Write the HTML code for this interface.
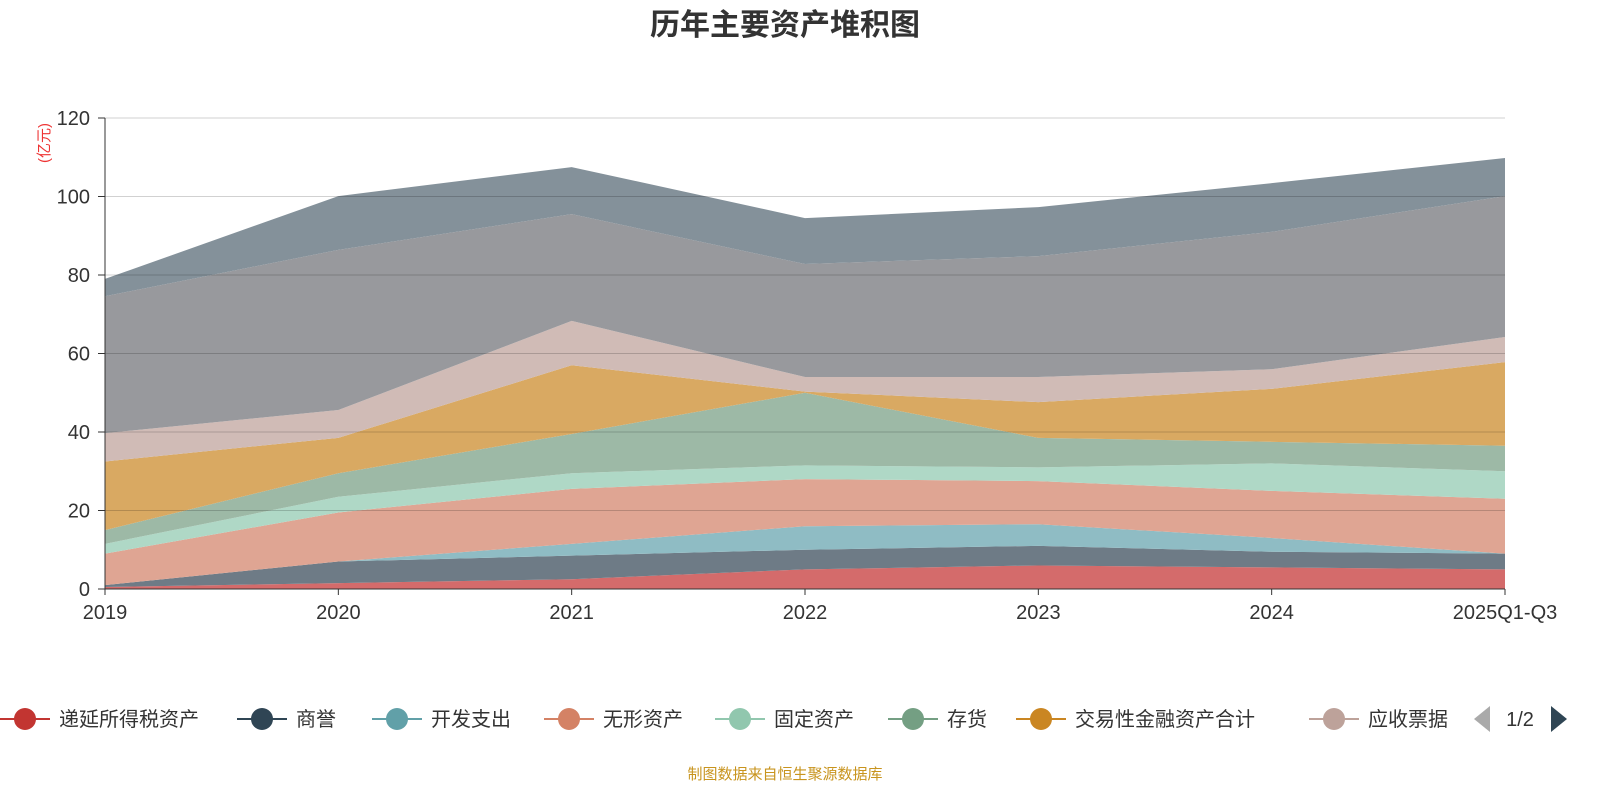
<!DOCTYPE html>
<html><head><meta charset="utf-8"><style>
body{margin:0;background:#fff;font-family:"Liberation Sans","Noto Sans CJK SC",sans-serif;}
svg text{font-family:"Liberation Sans","Noto Sans CJK SC",sans-serif;}
</style></head><body>
<svg id="c" width="1600" height="800">
<text x="785" y="35" text-anchor="middle" font-size="30" font-weight="bold" fill="#333">历年主要资产堆积图</text>
<text transform="translate(49,143) rotate(-90)" text-anchor="middle" font-size="15" fill="#e33">(亿元)</text>
<g id="areas"></g><g id="grid"></g><g id="axes"></g><g id="legend"></g>
<text x="785" y="779" text-anchor="middle" font-size="15" fill="#c8941e">制图数据来自恒生聚源数据库</text>
</svg>
<script>
const categories=["2019","2020","2021","2022","2023","2024","2025Q1-Q3"];
const seriesNames=["递延所得税资产","商誉","开发支出","无形资产","固定资产","存货","交易性金融资产合计","应收票据","其他资产A","其他资产B"];
const s0=[0.5,1.5,2.5,5,6,5.5,5];
const s1=[0.5,5.5,6,5,5,4,4];
const s2=[0,0,3,6,5.5,3.5,0];
const s3=[8,12.5,14,12,11,12,14];
const s4=[2.5,4,4,3.5,3.5,7,7];
const s5=[3.5,6,10,18.5,7.5,5.5,6.5];
const s6=[17.5,9,17.5,0.3,9.1,13.5,21.3];
const s7=[7.2,7.1,11.3,3.7,6.4,5,6.4];
const s8=[34.9,40.8,27.2,28.8,30.8,35,35.9];
const s9=[4.4,13.7,12,11.7,12.5,12.4,9.7];
const yTicks=[0,20,40,60,80,100,120];
const allSeries=[s0,s1,s2,s3,s4,s5,s6,s7,s8,s9];
const fills=["#d46b6b","#6e7b86","#8fbcc4","#dfa593","#afd8c6","#9db9a6","#d9a962","#d0bbb6","#98999d","#84919a"];
const legendColors=["#c23531","#2f4554","#61a0a8","#d48265","#91c7ae","#749f83","#ca8622","#bda29a"];
const NS="http://www.w3.org/2000/svg";
const X=i=>105+i*(1400/(categories.length-1));
const Y=v=>589-v*(471/120);
function mk(t,a,p){const e=document.createElementNS(NS,t);for(const k in a)e.setAttribute(k,a[k]);p.appendChild(e);return e;}
let base=categories.map(()=>0);
const areas=document.getElementById('areas');
allSeries.forEach((s,k)=>{
  const top=base.map((b,i)=>b+s[i]);
  let d="M"+top.map((v,i)=>X(i)+","+Y(v)).join("L");
  for(let i=categories.length-1;i>=0;i--)d+="L"+X(i)+","+Y(base[i]);
  const p=mk('path',{d:d+"Z",fill:fills[k]},areas);
  
  
  base=top;
});
const grid=document.getElementById('grid'),axes=document.getElementById('axes');
yTicks.forEach(t=>{
  if(t>0){const l=mk('line',{x1:105,x2:1505,y1:Y(t),y2:Y(t),stroke:"rgba(0,0,0,0.18)"},grid);
  }
  mk('line',{x1:98,x2:105,y1:Y(t),y2:Y(t),stroke:"#333"},axes);
  const tx=mk('text',{x:90,y:Y(t)+7,"text-anchor":"end","font-size":20,fill:"#333"},axes);tx.textContent=t;
  
});
mk('line',{x1:105,x2:105,y1:118,y2:589,stroke:"#333"},axes);
mk('line',{x1:105,x2:1505,y1:589,y2:589,stroke:"#333"},axes);
categories.forEach((c,i)=>{
  mk('line',{x1:X(i),x2:X(i),y1:589,y2:595,stroke:"#333"},axes);
  const tx=mk('text',{x:X(i),y:619,"text-anchor":"middle","font-size":20,fill:"#333"},axes);tx.textContent=c;
  
});
const lg=document.getElementById('legend');
const mx=[25,262,397,569,740,913,1041,1334];
mx.forEach((x,k)=>{
  const g=mk('g',{},lg);
  
  
  mk('line',{x1:x-25,x2:x+25,y1:719,y2:719,stroke:legendColors[k],"stroke-width":2},g);
  mk('circle',{cx:x,cy:719,r:11,fill:legendColors[k]},g);
  const t=mk('text',{x:x+34,y:726,"font-size":20,fill:"#333"},g);t.textContent=k==7?"应收票据":seriesNames[k];
});
mk('rect',{x:1455,y:700,width:15,height:40,fill:"#fff"},lg);
const pv=mk('path',{d:"M1490,706L1474,719L1490,732Z",fill:"#aaa"},lg);

const pt=mk('text',{x:1520,y:726,"text-anchor":"middle","font-size":20,fill:"#333"},lg);pt.textContent="1/2";
const nx=mk('path',{d:"M1551,706L1567,719L1551,732Z",fill:"#2f4554"},lg);

</script>
</body></html>
